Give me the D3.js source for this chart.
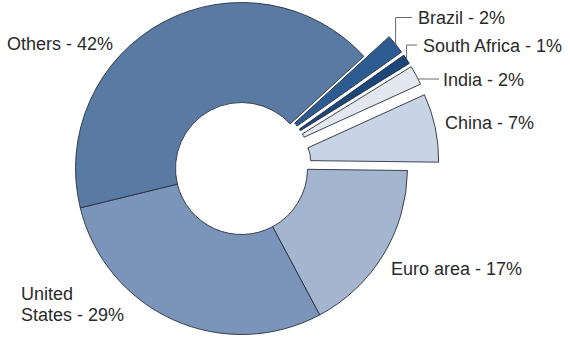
<!DOCTYPE html>
<html>
<head>
<meta charset="utf-8">
<script src="https://cdn.jsdelivr.net/npm/d3@7"></script>
<style>
  html, body { margin: 0; padding: 0; background: #ffffff; }
  svg { display: block; }
  text { font-family: "Liberation Sans", Arial, sans-serif; font-size: 18px; fill: #2a2a2a; }
</style>
</head>
<body>
<svg id="chart" width="570" height="340"></svg>
<script>
// Shares of the total, in percent, listed clockwise from the upper right
const categories = ["Brazil", "South Africa", "India", "China", "Euro area", "United States", "Others"];
const shares = [2, 1, 2, 7, 17, 29, 42];
const pulledOut = [true, true, true, true, false, false, false];
const colors = ["#2d5c92", "#1d467a", "#e3e7f0", "#c8d4e4", "#a3b5cf", "#7a94ba", "#587aa3"];

const svg = d3.select("#chart");
const cx = 241.5, cy = 168.5;
const innerR = 66, outerR = 166;
// Pulled-out wedges: shifted along their mid angle and drawn larger
const shift = 40, pulledInner = 30, pulledOuter = 158;

const start = 47.5 * Math.PI / 180;
const pie = d3.pie().sort(null).value(d => d.share)
  .startAngle(start).endAngle(start + 2 * Math.PI);

const rows = categories.map((c, i) => ({ name: c, share: shares[i], out: pulledOut[i], color: colors[i] }));
const arcs = pie(rows);

const arcNormal = d3.arc().innerRadius(innerR).outerRadius(outerR);
const arcPulled = d3.arc().innerRadius(pulledInner).outerRadius(pulledOuter);

function offsetOf(a) {
  if (!a.data.out) return [0, 0];
  const m = (a.startAngle + a.endAngle) / 2;
  return [shift * Math.sin(m), -shift * Math.cos(m)];
}

const g = svg.append("g").attr("transform", `translate(${cx},${cy})`);

g.selectAll("path.slice")
  .data(arcs.filter(a => !a.data.out).concat(arcs.filter(a => a.data.out)))
  .join("path")
  .attr("class", "slice")
  .attr("transform", a => { const o = offsetOf(a); return `translate(${o[0]},${o[1]})`; })
  .attr("d", a => (a.data.out ? arcPulled : arcNormal)(a))
  .attr("fill", a => a.data.color)
  .attr("stroke", "#28313d")
  .attr("stroke-width", 0.9)
  .attr("stroke-linejoin", "miter");

// Label layout (text start x, baseline y) and leader style
const labelLayout = {
  "Brazil": { x: 418, y: 24, leader: "elbow" },
  "South Africa": { x: 423, y: 51.5, leader: "elbow" },
  "India": { x: 443, y: 85.5, leader: "flat" },
  "China": { x: 445, y: 129 },
  "Euro area": { x: 391, y: 275 },
  "United States": { x: 21, y: 300, lines: ["United", "States - 29%"] },
  "Others": { x: 7, y: 50 }
};

const labels = svg.append("g");
arcs.forEach(a => {
  const L = labelLayout[a.data.name];
  const lines = L.lines || [`${a.data.name} - ${a.data.share}%`];
  const t = labels.append("text").attr("x", L.x).attr("y", L.y);
  lines.forEach((s, i) => t.append("tspan").attr("x", L.x).attr("dy", i === 0 ? 0 : 20.5).text(s));

  if (!L.leader) return;
  const o = offsetOf(a);
  const ox = cx + o[0], oy = cy + o[1];
  const ly = L.y - 6.5;
  let pts;
  if (L.leader === "elbow") {
    const m = (a.startAngle + a.endAngle) / 2;
    const px = ox + pulledOuter * Math.sin(m), py = oy - pulledOuter * Math.cos(m);
    pts = [[px, py], [px, ly], [L.x - 6, ly]];
  } else {
    const px = ox + Math.sqrt(pulledOuter * pulledOuter - (ly - oy) * (ly - oy));
    pts = [[px, ly], [L.x - 4, ly]];
  }
  labels.append("path")
    .attr("d", d3.line()(pts))
    .attr("fill", "none")
    .attr("stroke", "#6b6b6b")
    .attr("stroke-width", 1);
});
</script>
</body>
</html>
